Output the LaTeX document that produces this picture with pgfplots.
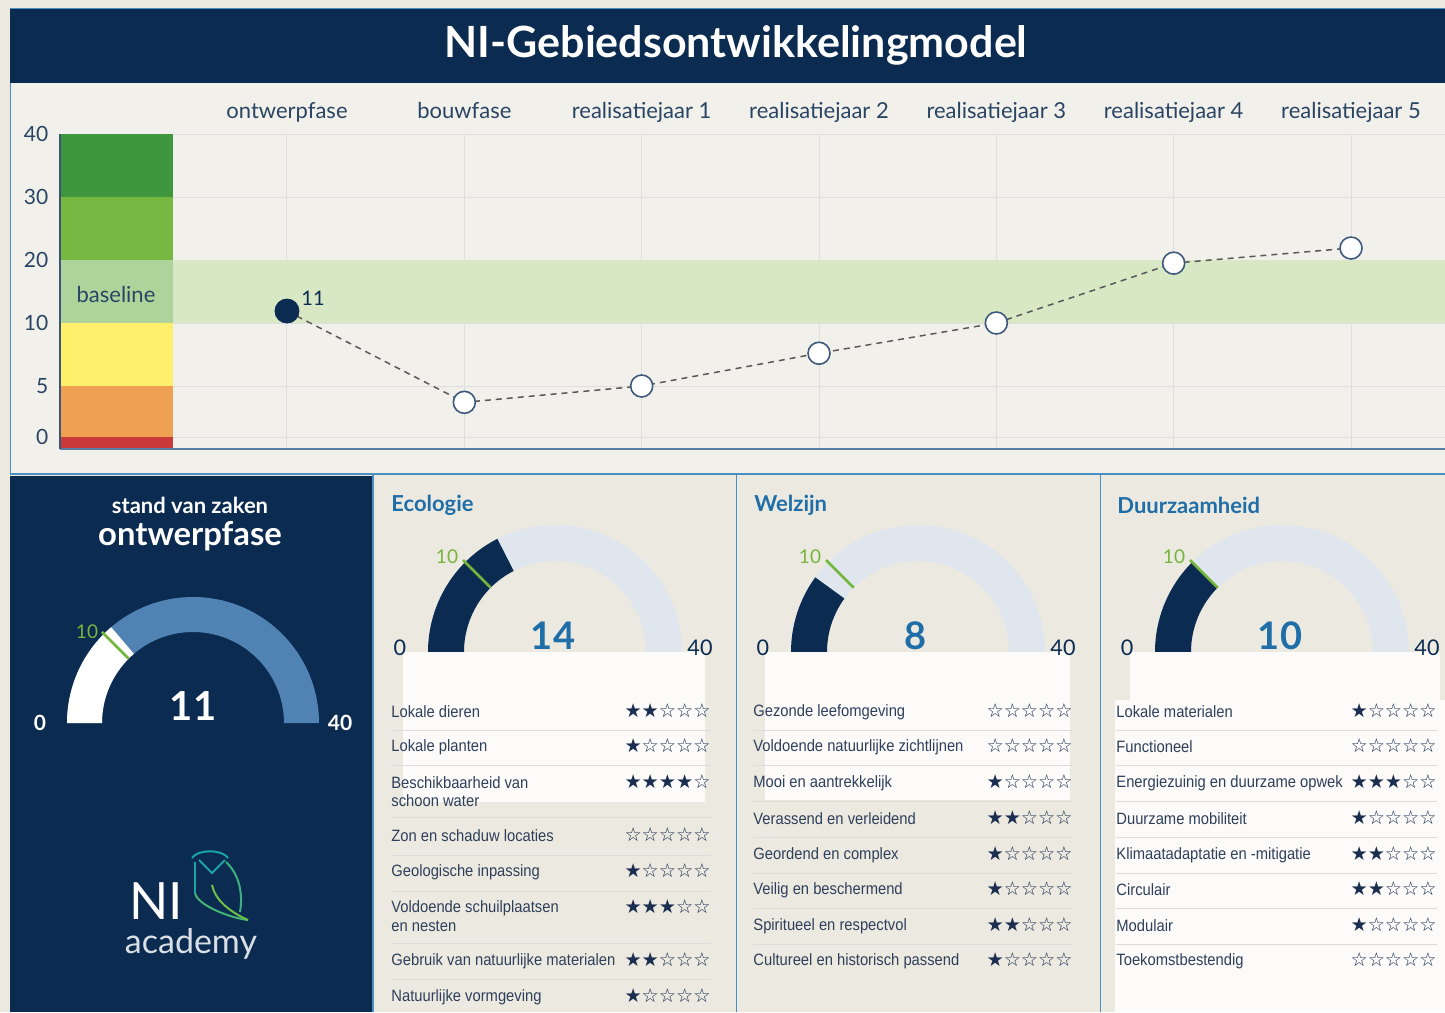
\documentclass[border=0pt]{standalone}
\usepackage{pgfplots}
\pgfplotsset{compat=1.18}
\usepackage{fontspec}
\setmainfont{Lato}
\newfontfamily\listfont{Liberation Sans}[FakeStretch=0.9]
\newfontfamily\starfont{DejaVu Sans}
\definecolor{navy}{HTML}{0B2B50}
\definecolor{bgc}{HTML}{ECE9E1}
\definecolor{panelc}{HTML}{F2F0EB}
\definecolor{blueT}{HTML}{1F6EA8}
\definecolor{lineblue}{HTML}{4B8EC2}
\definecolor{gaugeblue}{HTML}{5083B3}
\definecolor{gaugelight}{HTML}{DFE6EE}
\definecolor{mark10}{HTML}{74B53C}
\definecolor{dg}{HTML}{3F963E}
\definecolor{lg}{HTML}{77B843}
\definecolor{bl}{HTML}{AED49B}
\definecolor{bandc}{HTML}{D8E7C4}
\definecolor{ye}{HTML}{FFF06B}
\definecolor{orc}{HTML}{EFA050}
\definecolor{rd}{HTML}{C83A38}
\definecolor{txt}{HTML}{2A4564}
\definecolor{listtxt}{HTML}{2E3F5A}
\definecolor{starc}{HTML}{1C2E50}
\definecolor{medge}{HTML}{3D5A7C}
\definecolor{axbl}{HTML}{5B7FA1}
\definecolor{owlteal}{HTML}{19A5A8}
\definecolor{owlgreen}{HTML}{6EC046}
\newcommand\stars[1]{\ifcase#1 ☆☆☆☆☆\or ★☆☆☆☆\or ★★☆☆☆\or ★★★☆☆\or ★★★★☆\or ★★★★★\fi}
% gauge: cx cy value R r fillcolor restcolor
\newcommand\gauge[7]{%
\begin{scope}[shift={(#1,#2)},yscale=-1]
\fill[#7] (180:#4) arc[start angle=180,end angle=0,radius=#4] -- (0:#5) arc[start angle=0,end angle=180,radius=#5] -- cycle;
\pgfmathsetmacro\ga{180-4.5*#3}
\fill[#6] (180:#4) arc[start angle=180,end angle=\ga,radius=#4] -- (\ga:#5) arc[start angle=\ga,end angle=180,radius=#5] -- cycle;
\draw[mark10,line width=1.3pt] (135:#5) -- (135:#4+3);
\end{scope}}
\begin{document}
\begin{tikzpicture}[x=0.5pt,y=-0.5pt]
\clip (0,0) rectangle (1445,1012);
\fill[bgc] (0,0) rectangle (1445,1012);
% title bar
\fill[navy] (10,8) rectangle (1445,83);
\draw[lineblue,line width=0.8pt] (10,8.5) -- (1445,8.5);
\node[white,font=\fontsize{21.5}{25}\selectfont\bfseries] at (736,45) {NI-Gebiedsontwikkelingmodel};
% chart panel
\fill[panelc] (10,83) rectangle (1445,474);
\draw[lineblue,line width=0.7pt] (10.5,83) -- (10.5,474) -- (1445,474);
\coordinate (axpos) at (60,449);
\begin{axis}[at={(axpos)},anchor=south west,width=692.5pt,height=157.5pt,scale only axis,
  xmin=-1.28,xmax=6.53,ymin=-1.1765,ymax=40,
  y coord trafo/.code={\begingroup\pgfkeys{/pgf/fpu=true,/pgf/fpu/output format=fixed}\pgfmathparse{ifthenelse(#1<5,12+10.2*(#1),ifthenelse(#1<10,63+12.6*((#1)-5),126+6.3*((#1)-10)))}\xdef\mytrafores{\pgfmathresult}\endgroup\let\pgfmathresult\mytrafores},
  ytick={0,5,10,20,30,40},yticklabels={0,5,10,20,30,40},
  xtick={0,1,2,3,4,5,6},
  xticklabels={ontwerpfase,bouwfase,realisatiejaar 1,realisatiejaar 2,realisatiejaar 3,realisatiejaar 4,realisatiejaar 5},
  xticklabel pos=upper,
  major tick length=0pt,
  xmajorgrids,ymajorgrids,
  grid style={draw=black!13,line width=0.5pt},
  axis line style={draw=none},
  /pgf/number format/assume math mode=true,
  xticklabel style={text=txt,font=\fontsize{11}{13}\selectfont,anchor=base,yshift=8pt},
  yticklabel style={text=txt,font=\fontsize{10.5}{12}\selectfont,xshift=-2.3pt},
  clip=false]
\addplot[fill=dg,draw=none] coordinates {(-1.28,30) (-0.643,30) (-0.643,40) (-1.28,40)} -- cycle;
\addplot[fill=lg,draw=none] coordinates {(-1.28,20) (-0.643,20) (-0.643,30) (-1.28,30)} -- cycle;
\addplot[fill=bl,draw=none] coordinates {(-1.28,10) (-0.643,10) (-0.643,20) (-1.28,20)} -- cycle;
\addplot[fill=ye,draw=none] coordinates {(-1.28,5) (-0.643,5) (-0.643,10) (-1.28,10)} -- cycle;
\addplot[fill=orc,draw=none] coordinates {(-1.28,0) (-0.643,0) (-0.643,5) (-1.28,5)} -- cycle;
\addplot[fill=rd,draw=none] coordinates {(-1.28,-1.1765) (-0.643,-1.1765) (-0.643,0) (-1.28,0)} -- cycle;
\addplot[fill=bandc,draw=none] coordinates {(-0.643,10) (6.53,10) (6.53,20) (-0.643,20)} -- cycle;
\draw[axbl,line width=1pt] (rel axis cs:0,0) -- (rel axis cs:1,0);
\draw[navy!80,line width=0.6pt] (rel axis cs:0,0) -- (rel axis cs:0,1);
\addplot[color=black!65,line width=0.75pt,dash pattern=on 3pt off 2.5pt,mark=*,mark size=5.5pt,
  mark options={solid,fill=white,draw=medge,line width=0.8pt}]
  coordinates {(0,11.9) (1,3.4) (2,5) (3,7.6) (4,10) (5,19.5) (6,21.9)};
\addplot[only marks,mark=*,mark size=6pt,mark options={fill=navy,draw=navy}] coordinates {(0,11.9)};
\end{axis}
\node[txt,font=\fontsize{11}{13}\selectfont] at (116,294) {baseline};
\node[navy,font=\fontsize{10}{12}\selectfont] at (313,298) {11};
% bottom panels
\fill[navy] (10,476) rectangle (372,1012);
\draw[lineblue,line width=0.7pt] (373,474) -- (373,1012);
\draw[lineblue,line width=0.7pt] (736.5,474) -- (736.5,1012);
\draw[lineblue,line width=0.7pt] (1100.5,474) -- (1100.5,1012);
% panel 1
\node[white,font=\fontsize{11}{13}\selectfont\bfseries] at (190,505) {stand van zaken};
\node[white,font=\fontsize{16.4}{19}\selectfont\bfseries] at (190,536) {ontwerpfase};
\gauge{193}{723}{11}{126}{91}{white}{gaugeblue}
\node[white,font=\fontsize{10.5}{12}\selectfont\bfseries] at (40,723) {0};
\node[white,font=\fontsize{10.5}{12}\selectfont\bfseries] at (340,723) {40};
\node[mark10,font=\fontsize{9.5}{11}\selectfont] at (87,632) {10};
\node[white,font=\fontsize{20}{24}\selectfont\bfseries] at (193,706) {11};
% logo
\node[white,anchor=base,inner sep=0pt,font=\fontsize{25.7}{28}\selectfont] at (156,919) {NI};
\node[white!85!navy,anchor=base,inner sep=0pt,font=\fontsize{17}{20}\selectfont] at (191,953) {academy};
\draw[owlteal,line width=1pt] (192,858) .. controls (198,849) and (222,849) .. (228,858);
\draw[owlteal,line width=1pt] (199,860) -- (212,873) -- (225,860);
\draw[owlteal,line width=1pt] (195,862) -- (195,893);
\draw[owlteal!50!owlgreen,line width=1pt] (195,893) .. controls (197,905) and (230,918) .. (248,920);
\draw[owlteal!60!owlgreen,line width=1pt] (226,862) .. controls (240,875) and (243,895) .. (240,912);
\draw[owlgreen,line width=1pt] (212,885) .. controls (215,900) and (230,912) .. (248,920);
% gauges of three panels
\gauge{555}{652}{14}{127}{91}{navy}{gaugelight}
\gauge{918}{652}{8}{127}{91}{navy}{gaugelight}
\gauge{1282}{652}{10}{127}{91}{navy}{gaugelight}
% white boxes
\fill[white,opacity=0.85] (403,652) rectangle (705,802);
\fill[white,opacity=0.85] (765,652) rectangle (1070,800);
\fill[white,opacity=0.85] (1130,652) rectangle (1440,700);
\fill[white,opacity=0.85] (1115,700) rectangle (1445,1012);
\foreach \cx/\v in {555/14,918/8,1282/10}{
  \node[navy,font=\fontsize{10.8}{12}\selectfont] at (\cx-155,648) {0};
  \node[navy,font=\fontsize{10.8}{12}\selectfont] at (\cx+145,648) {40};
  \node[mark10,font=\fontsize{9.5}{11}\selectfont] at (\cx-108,557) {10};
  \node[blueT,font=\fontsize{19}{22}\selectfont\bfseries] at (\cx-2,636) {\v};
}
\node[blueT,anchor=west,inner sep=0pt,font=\fontsize{11}{13}\selectfont\bfseries] at (391,505) {Ecologie};
\node[blueT,anchor=west,inner sep=0pt,font=\fontsize{11}{13}\selectfont\bfseries] at (754,505) {Welzijn};
\node[blueT,anchor=west,inner sep=0pt,font=\fontsize{11}{13}\selectfont\bfseries] at (1117,505) {Duurzaamheid};
% separators
\foreach \y in {730,765,817,855,891,943,979} \draw[black!14,line width=0.5pt] (391,\y) -- (711,\y);
\foreach \y in {730,765,801,837,873,908,944} \draw[black!14,line width=0.5pt] (753,\y) -- (1073,\y);
\foreach \y in {730,765,801,837,873,908,944} \draw[black!14,line width=0.5pt] (1116,\y) -- (1437,\y);
% lists
\tikzset{lt/.style={listtxt,anchor=west,inner sep=0pt,font=\listfont\fontsize{8.2}{9}\selectfont},
         st/.style={starc,anchor=east,inner sep=0pt,font=\starfont\fontsize{9.6}{10}\selectfont}}
\foreach \y/\t/\n in {712/Lokale dieren/2,747/Lokale planten/1,783/Beschikbaarheid van/4,836/Zon en schaduw locaties/0,872/Geologische inpassing/1,908/Voldoende schuilplaatsen/3,961/Gebruik van natuurlijke materialen/2,997/Natuurlijke vormgeving/1}{
  \node[lt] at (391,\y) {\t};
  \node[st] at (711,\y-1) {\stars{\n}};
}
\node[lt] at (391,801) {schoon water};
\node[lt] at (391,926) {en nesten};
\foreach \y/\t/\n in {712/Gezonde leefomgeving/0,747/Voldoende natuurlijke zichtlijnen/0,783/Mooi en aantrekkelijk/1,819/Verassend en verleidend/2,855/Geordend en complex/1,890/Veilig en beschermend/1,926/Spiritueel en respectvol/2,961/Cultureel en historisch passend/1}{
  \node[lt] at (753,\y) {\t};
  \node[st] at (1073,\y-1) {\stars{\n}};
}
\foreach \y/\t/\n in {712/Lokale materialen/1,747/Functioneel/0,783/Energiezuinig en duurzame opwek/3,819/Duurzame mobiliteit/1,855/Klimaatadaptatie en -mitigatie/2,890/Circulair/2,926/Modulair/1,961/Toekomstbestendig/0}{
  \node[lt] at (1116,\y) {\t};
  \node[st] at (1437,\y-1) {\stars{\n}};
}
\end{tikzpicture}
\end{document}
